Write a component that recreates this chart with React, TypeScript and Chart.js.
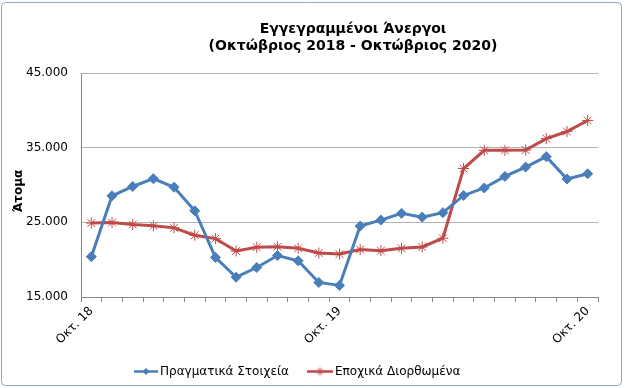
import React, { useEffect, useRef } from 'react';
import { Chart, registerables } from 'chart.js';

Chart.register(...registerables);

const categories = [
  'Οκτ. 18', 'Νοέ. 18', 'Δεκ. 18', 'Ιαν. 19', 'Φεβ. 19', 'Μαρ. 19', 'Απρ. 19',
  'Μάι. 19', 'Ιούν. 19', 'Ιούλ. 19', 'Αύγ. 19', 'Σεπ. 19', 'Οκτ. 19', 'Νοέ. 19',
  'Δεκ. 19', 'Ιαν. 20', 'Φεβ. 20', 'Μαρ. 20', 'Απρ. 20', 'Μάι. 20', 'Ιούν. 20',
  'Ιούλ. 20', 'Αύγ. 20', 'Σεπ. 20', 'Οκτ. 20',
];
const shownTickLabels = ['Οκτ. 18', 'Οκτ. 19', 'Οκτ. 20'];

const actualValues = [
  20400, 28550, 29800, 30850, 29700, 26550, 20300, 17650, 18950, 20550, 19850, 16950, 16550,
  24500, 25300, 26200, 25700, 26300, 28600, 29600, 31150, 32400, 33800, 30800, 31500,
];
const seasonalValues = [
  24900, 24970, 24700, 24530, 24260, 23280, 22820, 21160, 21660, 21740, 21520, 20890, 20750,
  21350, 21200, 21520, 21700, 22870, 32210, 34640, 34640, 34680, 36210, 37160, 38640,
];

const seriesNames = ['Πραγματικά Στοιχεία', 'Εποχικά Διορθωμένα'];
const titleLines = ['Εγγεγραμμένοι Άνεργοι', '(Οκτώβριος 2018 - Οκτώβριος 2020)'];
const yTitle = 'Άτομα';
const yMin = 15000;
const yMax = 45000;
const yStep = 10000;

const BLUE = '#4A7EBB';
const RED = '#BE4B48';
const FONT = "'DejaVu Sans', Verdana, sans-serif";

function fmt(v: number): string {
  const s = Math.round(v).toString();
  return s.replace(/\B(?=(\d{3})+(?!\d))/g, '.');
}

function drawDiamond(ctx: CanvasRenderingContext2D, x: number, y: number, r: number, color: string) {
  ctx.save();
  ctx.fillStyle = color;
  ctx.beginPath();
  ctx.moveTo(x - r, y);
  ctx.lineTo(x, y - r);
  ctx.lineTo(x + r, y);
  ctx.lineTo(x, y + r);
  ctx.closePath();
  ctx.fill();
  ctx.restore();
}

function drawStar(ctx: CanvasRenderingContext2D, x: number, y: number, r: number, color: string) {
  ctx.save();
  ctx.strokeStyle = color;
  ctx.lineWidth = 1;
  ctx.beginPath();
  for (let i = 0; i < 4; i++) {
    const a = (i * Math.PI) / 4;
    ctx.moveTo(x - Math.cos(a) * r, y - Math.sin(a) * r);
    ctx.lineTo(x + Math.cos(a) * r, y + Math.sin(a) * r);
  }
  ctx.stroke();
  ctx.restore();
}

const decorPlugin = {
  id: 'decor',
  beforeDraw(chart: any) {
    const ctx = chart.ctx as CanvasRenderingContext2D;
    ctx.save();
    ctx.fillStyle = '#ffffff';
    ctx.fillRect(0, 0, chart.width, chart.height);
    ctx.restore();
  },
  afterDraw(chart: any) {
    const ctx = chart.ctx as CanvasRenderingContext2D;
    ctx.save();
    // Title
    ctx.fillStyle = '#000000';
    ctx.font = `bold 14px ${FONT}`;
    ctx.textAlign = 'center';
    ctx.textBaseline = 'middle';
    ctx.fillText(titleLines[0], 353, 29);
    ctx.fillText(titleLines[1], 353, 46);

    // Y title
    ctx.save();
    ctx.translate(19, 191);
    ctx.rotate(-Math.PI / 2);
    ctx.font = `bold 12px ${FONT}`;
    ctx.textAlign = 'center';
    ctx.textBaseline = 'middle';
    ctx.fillText(yTitle, 0, 0);
    ctx.restore();

    // Legend
    const ly = 371.5;
    ctx.font = `12px ${FONT}`;
    ctx.textAlign = 'left';
    ctx.textBaseline = 'middle';
    const items = [
      { x0: 134, x1: 158, tx: 160, color: BLUE, marker: 'diamond' },
      { x0: 307, x1: 333, tx: 335, color: RED, marker: 'star' },
    ];
    items.forEach((it, i) => {
      ctx.strokeStyle = it.color;
      ctx.lineWidth = 2.5;
      ctx.beginPath();
      ctx.moveTo(it.x0, ly);
      ctx.lineTo(it.x1, ly);
      ctx.stroke();
      const mx = (it.x0 + it.x1) / 2;
      if (it.marker === 'diamond') drawDiamond(ctx, mx, ly, 3.5, it.color);
      else drawStar(ctx, mx, ly, 4, it.color);
      ctx.fillStyle = '#000000';
      ctx.fillText(seriesNames[i], it.tx, ly);
    });

    // Border
    ctx.strokeStyle = '#8DA9C6';
    ctx.lineWidth = 1;
    ctx.beginPath();
    (ctx as any).roundRect(1.5, 2.5, 620, 383, 4);
    ctx.stroke();
    ctx.restore();
  },
};

export default function App() {
  const canvasRef = useRef<HTMLCanvasElement | null>(null);

  useEffect(() => {
    const canvas = canvasRef.current;
    if (!canvas) return;
    const chart = new Chart(canvas, {
      type: 'line',
      data: {
        labels: categories,
        datasets: [
          {
            label: seriesNames[0],
            data: actualValues,
            borderColor: BLUE,
            backgroundColor: BLUE,
            borderWidth: 3,
            pointStyle: 'rectRot',
            pointRadius: 5,
            pointBorderWidth: 1,
            pointBackgroundColor: BLUE,
            pointBorderColor: BLUE,
            tension: 0,
            fill: false,
          },
          {
            label: seriesNames[1],
            data: seasonalValues,
            borderColor: RED,
            backgroundColor: RED,
            borderWidth: 3,
            pointStyle: 'star',
            pointRadius: 5.5,
            pointBorderWidth: 1,
            pointBorderColor: RED,
            tension: 0,
            fill: false,
          },
        ],
      },
      options: {
        responsive: false,
        animation: false,
        devicePixelRatio: 1,
        layout: { padding: { top: 73, right: 27, bottom: 31, left: 0 } },
        plugins: {
          legend: { display: false },
          title: { display: false },
          tooltip: { enabled: false },
        },
        scales: {
          x: {
            type: 'category',
            offset: true,
            grid: {
              offset: true,
              drawOnChartArea: false,
              drawTicks: true,
              tickLength: 5,
              color: '#868686',
            },
            border: { display: true, color: '#868686', width: 1 },
            ticks: {
              autoSkip: false,
              maxRotation: 45,
              minRotation: 45,
              padding: 2,
              color: '#000000',
              font: { family: FONT, size: 12 },
              callback: function (this: any, _v: any, index: number) {
                const lab = categories[index];
                return shownTickLabels.includes(lab) ? lab : '';
              },
            },
            afterFit: (scale: any) => {
              scale.height = 60;
            },
          },
          y: {
            min: yMin,
            max: yMax,
            grid: { drawTicks: false, color: '#B3B3B3', lineWidth: 1 },
            border: { display: true, color: '#868686', width: 1 },
            ticks: {
              stepSize: yStep,
              padding: 13,
              color: '#000000',
              font: { family: FONT, size: 12 },
              callback: (v: any) => fmt(Number(v)),
            },
            afterFit: (scale: any) => {
              scale.width = 81;
            },
          },
        },
      },
      plugins: [decorPlugin],
    });
    return () => chart.destroy();
  }, []);

  return (
    <div style={{ position: 'absolute', left: 0, top: 0, width: 625, height: 388 }}>
      <canvas ref={canvasRef} width={625} height={388} style={{ display: 'block' }} />
    </div>
  );
}
